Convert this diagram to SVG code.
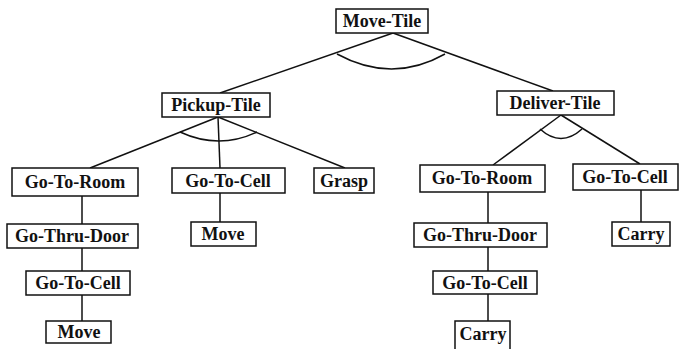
<svg xmlns="http://www.w3.org/2000/svg" width="684" height="349" viewBox="0 0 684 349">
<style>
rect{fill:#fff;stroke:#111;stroke-width:1.5}
text{font-family:'Liberation Serif','DejaVu Serif','Times New Roman',serif;font-weight:700;font-size:18px;fill:#111;text-anchor:middle}
.c path,.c line{fill:none;stroke:#111;stroke-width:1.5}
</style>
<rect x="0" y="0" width="684" height="349" style="fill:#fff;stroke:none"/>
<g class="c" id="connectors">
<line x1="393" y1="33" x2="220" y2="93"/>
<line x1="393" y1="33" x2="553" y2="91"/>
<path d="M337,54 Q392,84 445,54"/>
<line x1="218" y1="117" x2="90" y2="168"/>
<line x1="218" y1="117" x2="220" y2="168"/>
<line x1="218" y1="117" x2="345" y2="168"/>
<path d="M180,132 Q219,150 257,132"/>
<line x1="561" y1="115" x2="493" y2="165"/>
<line x1="561" y1="115" x2="640" y2="164"/>
<path d="M540,129 Q561,148 582,129"/>
<line x1="82" y1="196" x2="82" y2="224"/>
<line x1="82" y1="248" x2="82" y2="271"/>
<line x1="82" y1="295" x2="82" y2="321"/>
<line x1="220" y1="193" x2="220" y2="222"/>
<line x1="488" y1="192" x2="488" y2="223"/>
<line x1="488" y1="247" x2="488" y2="271"/>
<line x1="488" y1="294" x2="488" y2="321"/>
<line x1="641" y1="190" x2="641" y2="222"/>
</g>
<g id="move-tile"><rect x="336" y="9" width="92" height="24"/><text x="382" y="27">Move-Tile</text></g>
<g id="pickup-tile"><rect x="162" y="93" width="108" height="24"/><text x="216" y="111">Pickup-Tile</text></g>
<g id="deliver-tile"><rect x="497" y="91" width="117" height="24"/><text x="555" y="109">Deliver-Tile</text></g>
<g id="p-go-to-room"><rect x="12" y="168" width="126" height="28"/><text x="75" y="188">Go-To-Room</text></g>
<g id="p-go-to-cell"><rect x="172" y="168" width="113" height="25"/><text x="228" y="187">Go-To-Cell</text></g>
<g id="p-grasp"><rect x="314" y="168" width="60" height="25"/><text x="344" y="187">Grasp</text></g>
<g id="p-go-thru-door"><rect x="7" y="224" width="131" height="24"/><text x="72" y="242">Go-Thru-Door</text></g>
<g id="p-move-mid"><rect x="191" y="222" width="65" height="24"/><text x="223" y="240">Move</text></g>
<g id="p-go-to-cell-2"><rect x="26" y="271" width="104" height="24"/><text x="78" y="289">Go-To-Cell</text></g>
<g id="p-move-left"><rect x="46" y="321" width="65" height="22"/><text x="79" y="338">Move</text></g>
<g id="d-go-to-room"><rect x="420" y="165" width="125" height="27"/><text x="482" y="184">Go-To-Room</text></g>
<g id="d-go-to-cell"><rect x="573" y="164" width="105" height="26"/><text x="625" y="183">Go-To-Cell</text></g>
<g id="d-go-thru-door"><rect x="414" y="223" width="133" height="24"/><text x="480" y="241">Go-Thru-Door</text></g>
<g id="d-carry-right"><rect x="612" y="222" width="58" height="24"/><text x="641" y="240">Carry</text></g>
<g id="d-go-to-cell-2"><rect x="433" y="271" width="104" height="23"/><text x="485" y="289">Go-To-Cell</text></g>
<g id="d-carry-bottom"><rect x="455" y="321" width="55" height="30"/><text x="483" y="340">Carry</text></g>
</svg>
